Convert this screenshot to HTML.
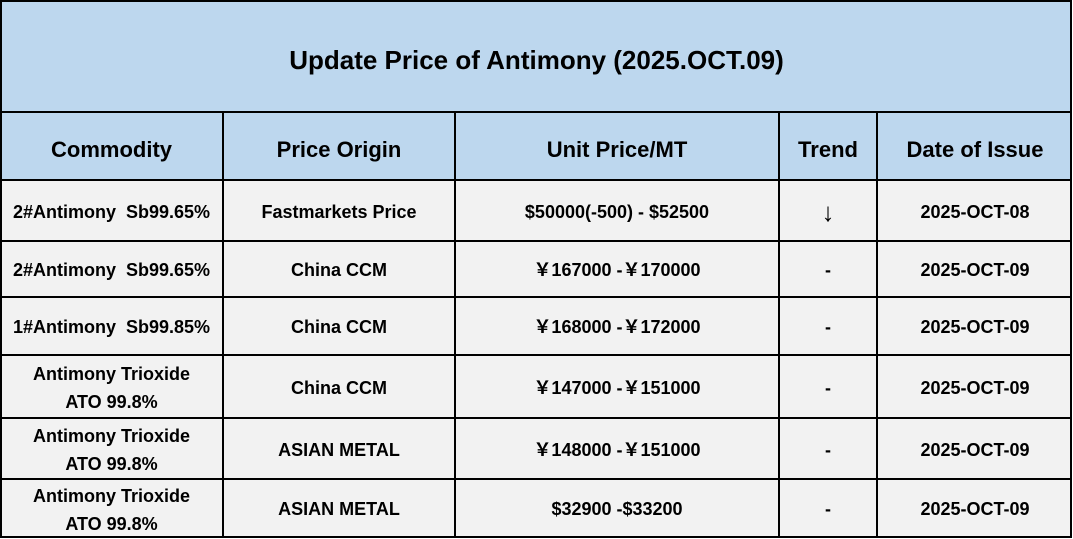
<!DOCTYPE html>
<html><head><meta charset="utf-8"><style>
body{margin:0;width:1073px;height:539px;background:#fff;overflow:hidden;font-family:"Liberation Sans","Noto Sans CJK SC",sans-serif;font-weight:bold;color:#000}
.c{position:absolute;display:flex;align-items:center;justify-content:center;text-align:center;line-height:1.5;box-sizing:border-box;padding-top:3px}
.h{position:absolute;background:#000;height:2px;left:1px;width:1071px}
.v{position:absolute;background:#000;width:2px}
</style></head><body>
<div style="position:absolute;left:1px;top:1px;width:1071px;height:179px;background:#bdd7ee"></div>
<div style="position:absolute;left:1px;top:180px;width:1071px;height:358px;background:#f2f2f2"></div>
<div class="h" style="top:0"></div>
<div class="h" style="top:111px"></div>
<div class="h" style="top:179px"></div>
<div class="h" style="top:240px"></div>
<div class="h" style="top:296px"></div>
<div class="h" style="top:354px"></div>
<div class="h" style="top:417px"></div>
<div class="h" style="top:478px"></div>
<div class="h" style="top:536px"></div>
<div class="v" style="left:0;top:0;height:538px"></div>
<div class="v" style="left:1070px;top:0;height:538px"></div>
<div class="v" style="left:222px;top:111px;height:427px"></div>
<div class="v" style="left:454px;top:111px;height:427px"></div>
<div class="v" style="left:778px;top:111px;height:427px"></div>
<div class="v" style="left:876px;top:111px;height:427px"></div>

<div class="c" style="left:0;top:0;width:1073px;height:112px;font-size:26px;padding-top:8px">Update Price of Antimony (2025.OCT.09)</div>

<div style="font-size:22px">
<div class="c" style="left:0;top:112px;width:223px;height:68px;padding-top:6px">Commodity</div>
<div class="c" style="left:223px;top:112px;width:232px;height:68px;padding-top:6px">Price Origin</div>
<div class="c" style="left:455px;top:112px;width:324px;height:68px;padding-top:6px">Unit Price/MT</div>
<div class="c" style="left:779px;top:112px;width:98px;height:68px;padding-top:6px">Trend</div>
<div class="c" style="left:877px;top:112px;width:196px;height:68px;padding-top:6px">Date of Issue</div>
</div>

<div style="font-size:18px">
<div class="c" style="left:0;top:181px;width:223px;height:60px;white-space:pre">2#Antimony  Sb99.65%</div>
<div class="c" style="left:223px;top:181px;width:232px;height:60px">Fastmarkets Price</div>
<div class="c" style="left:455px;top:181px;width:324px;height:60px">$50000(-500) - $52500</div>
<div class="c" style="left:779px;top:181px;width:98px;height:60px;font-weight:normal;font-size:26px">↓</div>
<div class="c" style="left:877px;top:181px;width:196px;height:60px">2025-OCT-08</div>

<div class="c" style="left:0;top:241px;width:223px;height:56px;white-space:pre">2#Antimony  Sb99.65%</div>
<div class="c" style="left:223px;top:241px;width:232px;height:56px">China CCM</div>
<div class="c" style="left:455px;top:241px;width:324px;height:56px">￥167000 -￥170000</div>
<div class="c" style="left:779px;top:241px;width:98px;height:56px">-</div>
<div class="c" style="left:877px;top:241px;width:196px;height:56px">2025-OCT-09</div>

<div class="c" style="left:0;top:297px;width:223px;height:58px;white-space:pre">1#Antimony  Sb99.85%</div>
<div class="c" style="left:223px;top:297px;width:232px;height:58px">China CCM</div>
<div class="c" style="left:455px;top:297px;width:324px;height:58px">￥168000 -￥172000</div>
<div class="c" style="left:779px;top:297px;width:98px;height:58px">-</div>
<div class="c" style="left:877px;top:297px;width:196px;height:58px">2025-OCT-09</div>

<div class="c" style="left:0;top:355px;width:223px;height:63px;line-height:28px">Antimony Trioxide<br>ATO 99.8%</div>
<div class="c" style="left:223px;top:355px;width:232px;height:63px">China CCM</div>
<div class="c" style="left:455px;top:355px;width:324px;height:63px">￥147000 -￥151000</div>
<div class="c" style="left:779px;top:355px;width:98px;height:63px">-</div>
<div class="c" style="left:877px;top:355px;width:196px;height:63px">2025-OCT-09</div>

<div class="c" style="left:0;top:418px;width:223px;height:61px;line-height:28px">Antimony Trioxide<br>ATO 99.8%</div>
<div class="c" style="left:223px;top:418px;width:232px;height:61px">ASIAN METAL</div>
<div class="c" style="left:455px;top:418px;width:324px;height:61px">￥148000 -￥151000</div>
<div class="c" style="left:779px;top:418px;width:98px;height:61px">-</div>
<div class="c" style="left:877px;top:418px;width:196px;height:61px">2025-OCT-09</div>

<div class="c" style="left:0;top:479px;width:223px;height:58px;line-height:28px">Antimony Trioxide<br>ATO 99.8%</div>
<div class="c" style="left:223px;top:479px;width:232px;height:58px">ASIAN METAL</div>
<div class="c" style="left:455px;top:479px;width:324px;height:58px">$32900 -$33200</div>
<div class="c" style="left:779px;top:479px;width:98px;height:58px">-</div>
<div class="c" style="left:877px;top:479px;width:196px;height:58px">2025-OCT-09</div>
</div>
</body></html>
